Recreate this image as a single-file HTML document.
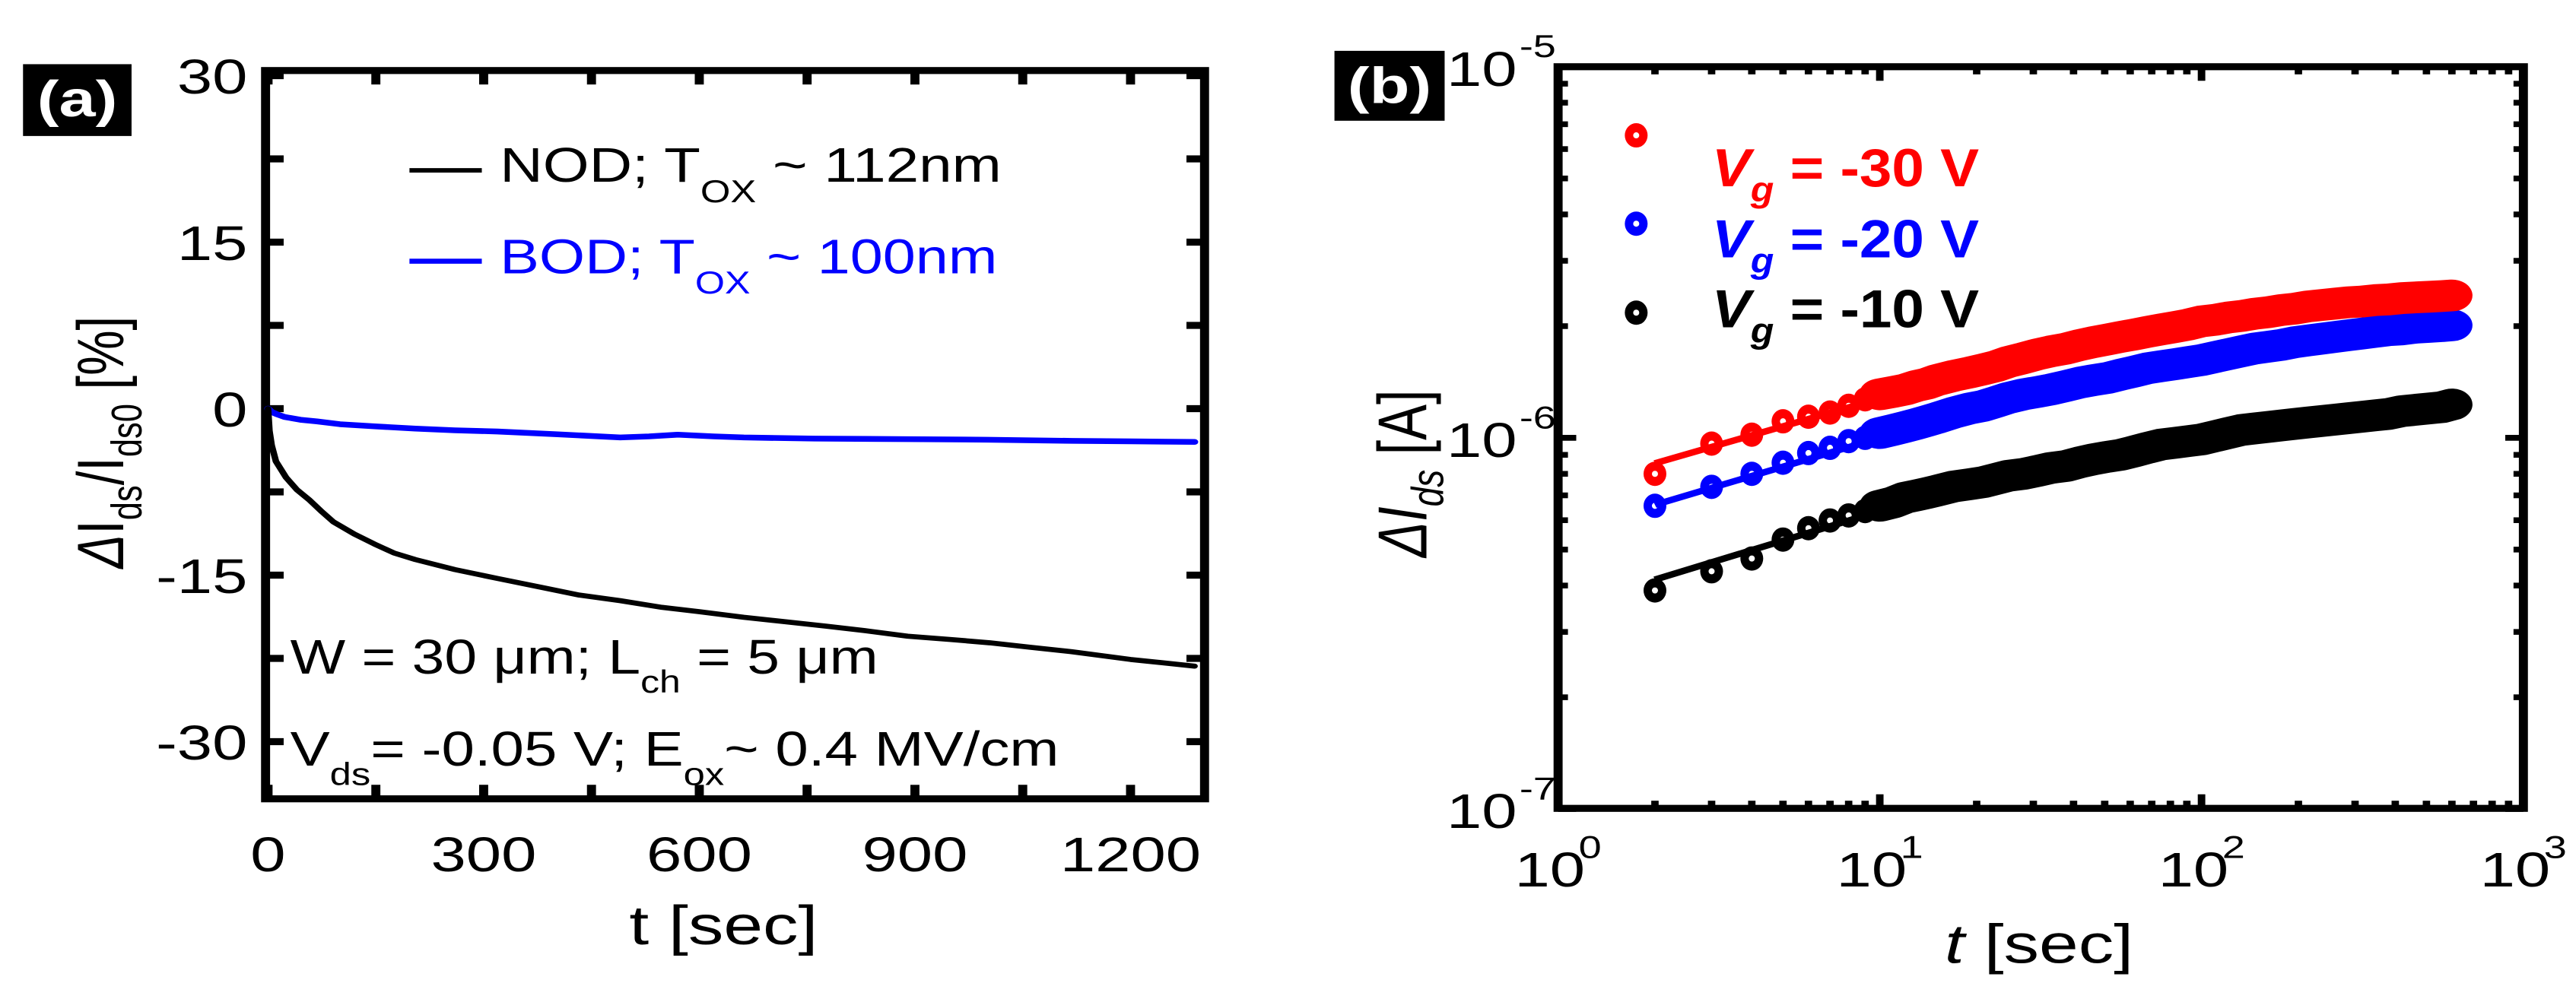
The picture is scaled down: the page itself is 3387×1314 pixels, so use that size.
<!DOCTYPE html>
<html><head><meta charset="utf-8"><style>
html,body{margin:0;padding:0;background:#fff;}
svg{display:block;}
text{font-family:"Liberation Sans",Arial,sans-serif;}
</style></head><body>
<svg id="fig" width="3387" height="1314" viewBox="0 0 3133 1572" preserveAspectRatio="none" xmlns="http://www.w3.org/2000/svg">
<g id="pa"></g>
<g id="pb"></g>
</svg>
<script>
// ---- Panel (a) data ----
const nodT=[0,2,5,11,25,40,57,75,91,120,148,175,205,260,319,380,433,490,548,600,662,720,776,830,890,950,1004,1060,1118,1200,1289];
const nodV=[0,-2,-3.3,-4.75,-6.2,-7.3,-8.2,-9.3,-10.2,-11.3,-12.2,-13.0,-13.6,-14.5,-15.3,-16.1,-16.8,-17.3,-17.9,-18.3,-18.8,-19.2,-19.6,-20.0,-20.5,-20.8,-21.1,-21.5,-21.9,-22.6,-23.2];
const bodT=[0,5,12,23,45,68,100,148,205,260,319,400,490,530,570,620,662,760,890,1000,1118,1200,1289];
const bodV=[0,-0.3,-0.5,-0.75,-1.0,-1.15,-1.4,-1.6,-1.8,-1.95,-2.06,-2.3,-2.6,-2.5,-2.35,-2.5,-2.6,-2.7,-2.75,-2.8,-2.9,-2.95,-3.0];
const aXTicks=[0,300,600,900,1200];
const aYTicks=[30,15,0,-15,-30];
// ---- Panel (b) data ----
const bT=[2,3,4,5,6,7,8,9,10,11,12,13,14,15,17,19,21,23,25,28,31,34,38,42,46,51,56,62,68,75,83,91,100,110,121,133,146,161,177,195,214,236,260,286,315,346,381,419,461,507,558,600];
const red30=[0.80,0.965,1.02,1.108,1.14,1.17,1.22,1.27,1.31,1.33,1.35,1.38,1.40,1.43,1.47,1.50,1.53,1.56,1.60,1.64,1.68,1.71,1.74,1.78,1.81,1.84,1.87,1.90,1.93,1.96,1.99,2.02,2.06,2.08,2.11,2.13,2.16,2.18,2.21,2.23,2.26,2.28,2.30,2.32,2.33,2.35,2.36,2.38,2.39,2.40,2.41,2.42];
const blue20=[0.656,0.738,0.80,0.857,0.91,0.94,0.98,1.0,1.03,1.05,1.07,1.09,1.11,1.13,1.17,1.20,1.22,1.25,1.28,1.31,1.33,1.35,1.38,1.41,1.43,1.45,1.48,1.51,1.54,1.56,1.58,1.60,1.62,1.65,1.68,1.71,1.74,1.76,1.78,1.81,1.83,1.85,1.87,1.89,1.91,1.93,1.95,1.96,1.98,1.99,2.0,2.01];
const black10=[0.388,0.437,0.473,0.532,0.571,0.599,0.618,0.635,0.656,0.67,0.69,0.70,0.71,0.72,0.74,0.75,0.76,0.775,0.79,0.80,0.815,0.83,0.84,0.86,0.875,0.889,0.90,0.92,0.94,0.96,0.97,0.98,0.99,1.01,1.03,1.05,1.06,1.07,1.08,1.09,1.10,1.11,1.12,1.13,1.14,1.15,1.16,1.18,1.19,1.20,1.21,1.23];
const fitA=[0.854,0.66,0.415];      // fit value at t=2 (x1e-6)
const fitSlope=[0.25,0.258,0.264];  // power-law exponents
const fitEnd=[10,10,10];            // visible end of fit (s)
const seriesLabels=["-30","-20","-10"];
const bXTicks=[0,1,2,3];
const bYTicks=[-5,-6,-7];

const NS="http://www.w3.org/2000/svg";
function mk(parent,tag,attrs,txt){const e=document.createElementNS(NS,tag);for(const k in attrs)e.setAttribute(k,attrs[k]);if(txt!==undefined)e.textContent=txt;parent.appendChild(e);return e;}

// ===== Panel A =====
const pa=document.getElementById('pa');
const aL=323,aR=1465,aTop=111,aBot=1257;
const xA=t=>326+t*(1375-326)/1200;
const yA=v=>643-v*262/15;
let el;
el=mk(pa,'rect',{x:28,y:101,width:132,height:113,fill:'#000'});


el=mk(pa,'text',{x:94,y:183,'font-size':80,'font-weight':'bold',fill:'#fff','text-anchor':'middle'},'(a)');


const tk=mk(pa,'g',{stroke:'#000','stroke-width':11});


for(let t=0;t<=1300;t+=150){const x=xA(t);mk(tk,'line',{x1:x,y1:aBot,x2:x,y2:aBot-22});mk(tk,'line',{x1:x,y1:aTop,x2:x,y2:aTop+22});}
for(let v=30;v>=-35;v-=7.5){const y=yA(v);if(y<aTop||y>aBot)continue;mk(tk,'line',{x1:aL,y1:y,x2:aL+22,y2:y});mk(tk,'line',{x1:aR,y1:y,x2:aR-22,y2:y});}
el=mk(pa,'rect',{x:aL,y:aTop,width:aR-aL,height:aBot-aTop,fill:'none',stroke:'#000','stroke-width':11});


aYTicks.forEach(v=>{const e=mk(pa,'text',{x:301,y:yA(v)+28,'font-size':77,'text-anchor':'end'},String(v));

});
aXTicks.forEach(t=>{const e=mk(pa,'text',{x:xA(t),y:1371,'font-size':77,'text-anchor':'middle'},String(t));

});
el=mk(pa,'text',{x:880,y:1486,'font-size':86,'text-anchor':'middle'},'t  [sec]');


el=mk(pa,'text',{transform:'translate(150,696) rotate(-90)','font-size':80,'text-anchor':'middle'});
el.innerHTML='<tspan font-style="italic">Δ</tspan>I<tspan font-size="52" dy="22">ds</tspan><tspan dy="-22">/I</tspan><tspan font-size="52" dy="22">ds0</tspan><tspan dy="-22"> [%]</tspan>';


function poly(par,xs,ys,fx,fy,col,w,name){let d='';xs.forEach((x,i)=>{d+=(i?'L':'M')+fx(x).toFixed(1)+','+fy(ys[i]).toFixed(1);});const e=mk(par,'path',{d:d,fill:'none',stroke:col,'stroke-width':w,'stroke-linejoin':'round','stroke-linecap':'round'});

return e;}
poly(pa,bodT,bodV,xA,yA,'#0000ff',9,'bod-line');
poly(pa,nodT,nodV,xA,yA,'#000',8,'nod-line');
el=mk(pa,'line',{x1:498,y1:268,x2:586,y2:268,stroke:'#000','stroke-width':7});


el=mk(pa,'text',{x:608,y:286,'font-size':77,textLength:610,lengthAdjust:'spacingAndGlyphs'});
el.innerHTML='NOD; T<tspan font-size="50" dy="32">OX</tspan><tspan dy="-32"> ~ 112nm</tspan>';


el=mk(pa,'line',{x1:498,y1:411,x2:586,y2:411,stroke:'#0000ff','stroke-width':8});


el=mk(pa,'text',{x:608,y:430,'font-size':77,fill:'#0000ff',textLength:605,lengthAdjust:'spacingAndGlyphs'});
el.innerHTML='BOD; T<tspan font-size="50" dy="32">OX</tspan><tspan dy="-32"> ~ 100nm</tspan>';


el=mk(pa,'text',{x:353,y:1060,'font-size':77,textLength:715,lengthAdjust:'spacingAndGlyphs'});
el.innerHTML='W = 30 μm; L<tspan font-size="50" dy="30">ch</tspan><tspan dy="-30"> = 5 μm</tspan>';


el=mk(pa,'text',{x:353,y:1205,'font-size':77,textLength:935,lengthAdjust:'spacingAndGlyphs'});
el.innerHTML='V<tspan font-size="50" dy="30">ds</tspan><tspan dy="-30">= -0.05 V; E</tspan><tspan font-size="50" dy="30">ox</tspan><tspan dy="-30">~ 0.4 MV/cm</tspan>';



// ===== Panel B =====
const pb=document.getElementById('pb');
const bL=1895,bR=3069,bTop=105,bBot=1272;
const xB=t=>1895+Math.log10(t)*391.3;
const yB=v=>105+(-5-Math.log10(v*1e-6))*584;
const yBe=e=>105+(-5-e)*584;
el=mk(pb,'rect',{x:1623,y:80,width:134,height:110,fill:'#000'});


el=mk(pb,'text',{x:1690,y:162,'font-size':80,'font-weight':'bold',fill:'#fff','text-anchor':'middle'},'(b)');


const tb=mk(pb,'g',{stroke:'#000','stroke-width':9});


for(let d=0;d<3;d++)for(let m=1;m<=10;m++){const x=xB(m*Math.pow(10,d));const L=(m===1||m===10)?22:12;mk(tb,'line',{x1:x,y1:bBot,x2:x,y2:bBot-L});mk(tb,'line',{x1:x,y1:bTop,x2:x,y2:bTop+L});}
for(let d=-7;d<-5;d++)for(let m=1;m<=10;m++){const y=105+(-5-(d+Math.log10(m)))*584;const L=(m===1||m===10)?22:12;mk(tb,'line',{x1:bL,y1:y,x2:bL+L,y2:y});mk(tb,'line',{x1:bR,y1:y,x2:bR-L,y2:y});}
el=mk(pb,'rect',{x:bL,y:bTop,width:bR-bL,height:bBot-bTop,fill:'none',stroke:'#000','stroke-width':11});


bYTicks.forEach(e=>{const y=yBe(e);
const t1=mk(pb,'text',{x:1845,y:y+30,'font-size':77,'text-anchor':'end'},'10');


const t2=mk(pb,'text',{x:1848,y:y-15,'font-size':50},String(e));

});
bXTicks.forEach(e=>{const x=1895+e*391.3;
const t1=mk(pb,'text',{x:x-10,y:1395,'font-size':77,'text-anchor':'middle'},'10');


const t2=mk(pb,'text',{x:x+25,y:1350,'font-size':50},String(e));

});
el=mk(pb,'text',{x:2480,y:1515,'font-size':86,'text-anchor':'middle'});
el.innerHTML='<tspan font-style="italic">t</tspan> [sec]';


el=mk(pb,'text',{transform:'translate(1735,745) rotate(-90)','font-size':84,'text-anchor':'middle'});
el.innerHTML='<tspan font-style="italic">ΔI</tspan><tspan font-size="55" font-style="italic" dy="20">ds</tspan><tspan dy="-20"> [A]</tspan>';


const cols=['#ff0000','#0000ff','#000000'];
const sers=[red30,blue20,black10];
const RX=15/1.081,RY=16/0.836,hx=4/1.081,hy=4/0.836;
function ring(cx,cy){return 'M'+(cx-RX)+','+cy+'a'+RX+','+RY+' 0 1,0 '+(2*RX)+',0a'+RX+','+RY+' 0 1,0 '+(-2*RX)+',0Z'+
 'M'+(cx-hx)+','+cy+'a'+hx+','+hy+' 0 1,0 '+(2*hx)+',0a'+hx+','+hy+' 0 1,0 '+(-2*hx)+',0Z';}
[2,1,0].forEach(s=>{
 const g=mk(pb,'g',{});
 
 
 const f=t=>fitA[s]*Math.pow(t/2,fitSlope[s]);
 const ln=mk(g,'line',{x1:xB(2),y1:yB(f(2)),x2:xB(fitEnd[s]),y2:yB(f(fitEnd[s])),stroke:cols[s],'stroke-width':10});
 
 
 let d='';let first=true;
 bT.forEach((t,i)=>{if(t<10)return;d+=(first?'M':'L')+xB(t).toFixed(1)+','+yB(sers[s][i]).toFixed(1);first=false;});
 const band=mk(g,'path',{d:d,fill:'none',stroke:cols[s],'stroke-width':50,'stroke-linecap':'round','stroke-linejoin':'round'});
 
 
 bT.forEach((t,i)=>{const c=mk(g,'path',{d:ring(xB(t),yB(sers[s][i])),fill:cols[s],'fill-rule':'evenodd'});
 
 });
});
const legY=[213,352,492],txtY=[293,405,515];
[0,1,2].forEach(s=>{
 const c=mk(pb,'path',{d:ring(1990,legY[s]),fill:cols[s],'fill-rule':'evenodd'});
 
 
 const t=mk(pb,'text',{x:2082,y:txtY[s],'font-size':84,'font-weight':'bold',fill:cols[s],textLength:325,lengthAdjust:'spacingAndGlyphs'});
 t.innerHTML='<tspan font-style="italic">V</tspan><tspan font-style="italic" font-size="55" dy="24">g</tspan><tspan dy="-24"> = '+seriesLabels[s]+' V</tspan>';
 
 
});
</script>
</body></html>
